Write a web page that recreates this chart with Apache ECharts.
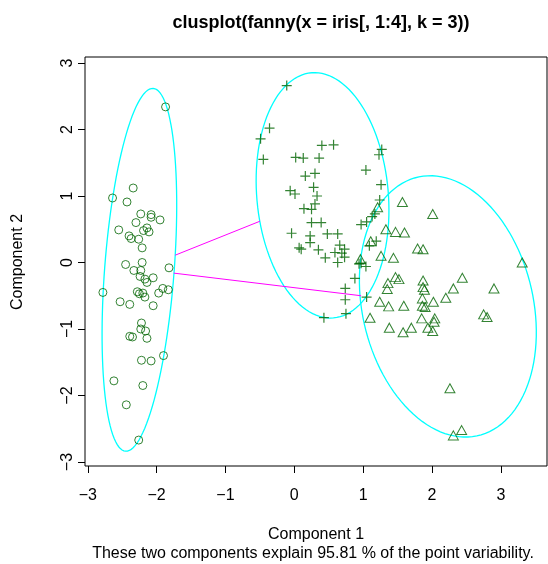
<!DOCTYPE html>
<html>
<head>
<meta charset="utf-8">
<script src="https://cdn.jsdelivr.net/npm/echarts@6/dist/echarts.min.js"></script>
<style>
  html, body { margin: 0; padding: 0; background: #fff; }
  #chart_1 { width: 548px; height: 564px; }
</style>
</head>
<body>
<div id="chart_1"></div>
<script>
// cluster 1 (circles)
var clus1 = [
    [-1.87, 2.34], [-2.34, 1.12], [-2.64, 0.97], [-2.43, 0.91], [-2.23, 0.73],
    [-2.08, 0.72], [-2.08, 0.68], [-1.95, 0.64], [-2.30, 0.60], [-2.55, 0.49],
    [-2.14, 0.52], [-2.19, 0.48], [-2.11, 0.46], [-2.40, 0.40], [-2.37, 0.36],
    [-2.26, 0.35], [-2.21, 0.22], [-2.45, -0.03], [-2.21, 0.00], [-2.33, -0.12],
    [-1.82, -0.08], [-2.23, -0.12], [-2.24, -0.21], [-2.17, -0.25], [-2.14, -0.30],
    [-2.05, -0.23], [-2.78, -0.45], [-2.28, -0.44], [-2.25, -0.47], [-2.20, -0.46],
    [-2.17, -0.52], [-1.97, -0.46], [-1.91, -0.39], [-1.83, -0.41], [-2.53, -0.59],
    [-2.39, -0.63], [-2.05, -0.65], [-2.22, -0.91], [-2.23, -1.00], [-2.16, -1.03],
    [-2.14, -1.14], [-2.39, -1.11], [-2.35, -1.12], [-2.22, -1.47], [-2.08, -1.48],
    [-1.90, -1.40], [-2.62, -1.78], [-2.20, -1.85], [-2.44, -2.14], [-2.26, -2.67]
];
// cluster 2 (plus)
var clus2 = [
    [-0.11, 2.66], [-0.36, 2.02], [-0.49, 1.86], [-0.45, 1.55], [0.40, 1.76],
    [0.57, 1.77], [0.02, 1.58], [0.13, 1.57], [0.36, 1.57], [1.27, 1.70],
    [1.23, 1.62], [1.04, 1.39], [0.16, 1.30], [0.30, 1.34], [-0.06, 1.08],
    [0.01, 1.03], [0.28, 1.13], [0.33, 1.00], [1.26, 1.17], [1.24, 0.94],
    [0.14, 0.81], [0.25, 0.80], [0.30, 0.88], [0.25, 0.60], [0.39, 0.60],
    [-0.04, 0.44], [0.23, 0.40], [0.48, 0.43], [0.63, 0.43], [0.23, 0.30],
    [0.07, 0.22], [0.10, 0.20], [0.35, 0.19], [0.66, 0.26], [0.73, 0.20],
    [0.59, 0.15], [0.69, 0.14], [0.45, 0.07], [0.73, 0.08], [0.63, 0.00],
    [0.97, 0.57], [1.05, 0.61], [1.13, 0.69], [1.17, 0.73], [1.09, 0.25],
    [1.19, 0.32], [0.94, -0.02], [0.97, -0.01], [1.04, -0.06], [0.88, -0.24],
    [0.74, -0.39], [0.74, -0.56], [1.05, -0.52], [0.75, -0.77], [0.43, -0.83]
];
// cluster 3 (triangles)
var clus3 = [
    [1.57, 0.91], [2.01, 0.73], [1.21, 0.83], [1.33, 0.50], [1.47, 0.46],
    [1.60, 0.45], [1.11, 0.32], [1.79, 0.21], [1.87, 0.20], [0.96, 0.05],
    [1.26, 0.10], [1.44, 0.07], [3.31, 0.00], [1.47, -0.22], [1.52, -0.25],
    [1.36, -0.31], [1.87, -0.27], [2.44, -0.23], [1.35, -0.40], [1.87, -0.37],
    [1.89, -0.41], [2.31, -0.39], [2.90, -0.39], [2.20, -0.53], [1.86, -0.54],
    [2.02, -0.59], [1.24, -0.59], [1.37, -0.66], [1.59, -0.65], [1.86, -0.65],
    [1.90, -0.67], [2.75, -0.78], [2.80, -0.82], [1.10, -0.83], [1.85, -0.84],
    [2.04, -0.84], [2.03, -0.89], [1.94, -0.98], [2.01, -1.03], [1.38, -0.98],
    [1.58, -1.05], [1.70, -0.98], [2.26, -1.89], [2.43, -2.52], [2.31, -2.60]
];
// ellipses: centre x, centre y, semi-major, semi-minor, angle (deg)
var ellipses = [
    [-2.25, -0.11, 2.735, 0.505, 85.8],
    [0.41, 1.01, 1.85, 0.955, 94.9],
    [2.23, -0.66, 1.992, 1.242, 102.2]
];
var link1 = [[-1.73, 0.11], [-0.50, 0.62]];
var link2 = [[-1.75, -0.16], [0.97, -0.50]];
var tickVals = [-3, -2, -1, 0, 1, 2, 3];

var green = '#006400';
var font = 'Liberation Sans, Arial, sans-serif';

function minus(v) {
    return String(v).replace('-', '\u2212');
}

var myChart = echarts.init(document.getElementById('chart_1'));
myChart.setOption({
    animation: false,
    title: {
        text: 'clusplot(fanny(x = iris[, 1:4], k = 3))',
        left: 316, top: 9, textAlign: 'center',
        textStyle: {fontFamily: font, fontSize: 18, fontWeight: 'bold', color: '#000'}
    },
    grid: {
        left: 85, right: 1, top: 57, bottom: 98,
        show: true, borderColor: '#000', borderWidth: 1,
        outerBoundsMode: 'none'
    },
    xAxis: {
        type: 'value', min: -3.04, max: 3.67,
        splitLine: {show: false},
        axisLine: {show: false, onZero: false},
        axisTick: {show: true, inside: false, length: 7, customValues: tickVals,
            lineStyle: {color: '#000'}},
        axisLabel: {customValues: tickVals, formatter: minus, margin: 22,
            fontFamily: font, fontSize: 16, color: '#000'}
    },
    yAxis: {
        type: 'value', min: -3.06, max: 3.09,
        splitLine: {show: false},
        axisLine: {show: false, onZero: false},
        axisTick: {show: true, inside: false, length: 7, customValues: tickVals,
            lineStyle: {color: '#000'}},
        axisLabel: {customValues: tickVals, formatter: minus, margin: 9, rotate: 90,
            fontFamily: font, fontSize: 16, color: '#000'}
    },
    graphic: [
        {type: 'text', style: {
            text: 'Component 1', x: 316, y: 535, textAlign: 'center', textVerticalAlign: 'middle',
            font: '16px ' + font, fill: '#000'}},
        {type: 'text', style: {
            text: 'These two components explain 95.81 % of the point variability.',
            x: 313, y: 554, textAlign: 'center', textVerticalAlign: 'middle',
            font: '16px ' + font, fill: '#000'}},
        {type: 'text', x: 18, y: 262, rotation: Math.PI / 2, style: {
            text: 'Component 2', textAlign: 'center', textVerticalAlign: 'middle',
            font: '16px ' + font, fill: '#000'}}
    ],
    series: [
        {
            type: 'scatter', data: clus1, symbol: 'circle', symbolSize: 8,
            itemStyle: {color: 'transparent', borderColor: green, borderWidth: 1}
        },
        {
            type: 'scatter', data: clus2, symbol: 'path://M0,5L10,5M5,0L5,10', symbolSize: 10,
            itemStyle: {color: 'none', borderColor: green, borderWidth: 1.2}
        },
        {
            type: 'scatter', data: clus3, symbol: 'triangle', symbolSize: [10, 9],
            itemStyle: {color: 'transparent', borderColor: green, borderWidth: 1}
        },
        {
            type: 'custom', data: ellipses, silent: true,
            renderItem: function (params, api) {
                var cx = api.value(0), cy = api.value(1);
                var a = api.value(2), b = api.value(3);
                var th = api.value(4) * Math.PI / 180;
                var pts = [];
                for (var i = 0; i <= 120; i++) {
                    var t = i / 120 * Math.PI * 2;
                    var ex = cx + a * Math.cos(t) * Math.cos(th) - b * Math.sin(t) * Math.sin(th);
                    var ey = cy + a * Math.cos(t) * Math.sin(th) + b * Math.sin(t) * Math.cos(th);
                    pts.push(api.coord([ex, ey]));
                }
                return {type: 'polyline', shape: {points: pts},
                    style: {stroke: '#00ffff', fill: null, lineWidth: 1.3}};
            }
        },
        {
            type: 'line', data: link1, showSymbol: false, silent: true,
            lineStyle: {color: '#ff00ff', width: 1}
        },
        {
            type: 'line', data: link2, showSymbol: false, silent: true,
            lineStyle: {color: '#ff00ff', width: 1}
        }
    ]
});
</script>
</body>
</html>
